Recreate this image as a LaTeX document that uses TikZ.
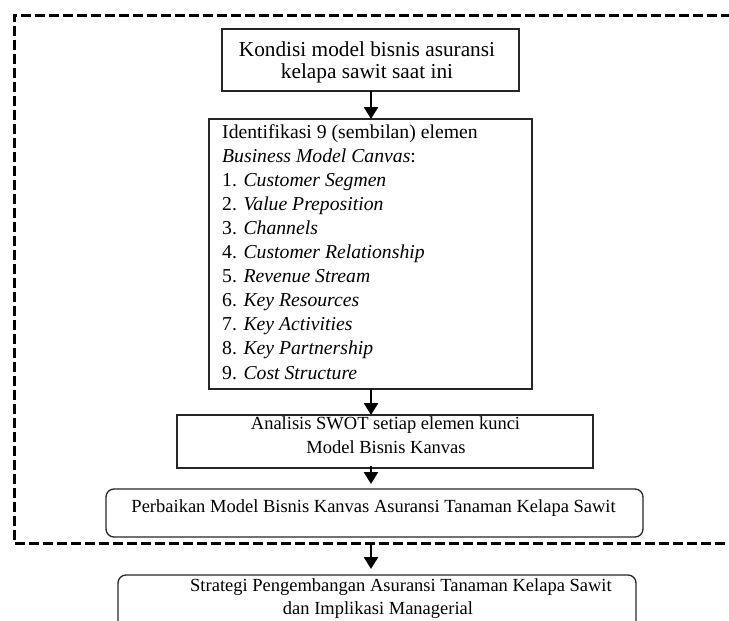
\documentclass[tikz,border=0pt]{standalone}
\usepackage{fontspec}
\setmainfont{Liberation Serif}
\usetikzlibrary{arrows.meta}
\begin{document}
\begin{tikzpicture}[x=1pt,y=-1pt,
  box/.style={draw=black!85, line width=1.3pt, inner sep=0pt, outer sep=0pt},
  rbox/.style={box, rounded corners=8pt},
  arr/.style={line width=2.6pt, -{Triangle[width=14pt,length=12pt]}},
  frame/.style={line width=3pt, dash pattern=on 10pt off 4pt},
  txt/.style={inner sep=0pt, anchor=base},
  ltxt/.style={inner sep=0pt, anchor=base west},
  fa/.style={font=\fontsize{21.3}{22}\selectfont},
  fb/.style={font=\fontsize{19.7}{24}\selectfont},
  fc/.style={font=\fontsize{18.5}{23}\selectfont}
]
\useasboundingbox (0,0) rectangle (729,621);
% dashed frame
\draw[frame] (745,15) -- (14,15) -- (14,543) -- (745,543);
% boxes
\node[box, minimum width=297pt, minimum height=62pt] (b1) at (370.5,60) {};
\node[box, minimum width=323pt, minimum height=270pt] (b2) at (370.5,254) {};
\node[box, minimum width=416pt, minimum height=53pt] (b3) at (385,441.5) {};
\node[rbox, minimum width=537pt, minimum height=48pt] (b4) at (374.5,513) {};
\node[rbox, minimum width=518pt, minimum height=75pt] (b5) at (377,612.5) {};
% texts
\node[txt, fa] (t1a) at (367,56.4) {Kondisi model bisnis asuransi};
\node[txt, fa] (t1b) at (367,78.4) {kelapa sawit saat ini};
\node[ltxt, fb] (l0) at (222,138) {Identifikasi 9 (sembilan) elemen};
\node[ltxt, fb] (l1) at (222,162.1) {\textit{Business Model Canvas}:};
\node[ltxt, fb] (l2) at (222,186.2) {1. \textit{Customer Segmen}};
\node[ltxt, fb] (l3) at (222,210.3) {2. \textit{Value Preposition}};
\node[ltxt, fb] (l4) at (222,234.4) {3. \textit{Channels}};
\node[ltxt, fb] (l5) at (222,258.5) {4. \textit{Customer Relationship}};
\node[ltxt, fb] (l6) at (222,282.6) {5. \textit{Revenue Stream}};
\node[ltxt, fb] (l7) at (222,306.7) {6. \textit{Key Resources}};
\node[ltxt, fb] (l8) at (222,330.8) {7. \textit{Key Activities}};
\node[ltxt, fb] (l9) at (222,354.9) {8. \textit{Key Partnership}};
\node[ltxt, fb] (l10) at (222,379) {9. \textit{Cost Structure}};
\node[txt, fc] (t3a) at (385.5,429.5) {Analisis SWOT setiap elemen kunci};
\node[txt, fc] (t3b) at (386,453.5) {Model Bisnis Kanvas};
\node[txt, fc] (t4) at (373.6,512.5) {Perbaikan Model Bisnis Kanvas Asuransi Tanaman Kelapa Sawit};
\node[ltxt, fc] (t5a) at (190,591.5) {Strategi Pengembangan Asuransi Tanaman Kelapa Sawit};
\node[txt, fc] (t5b) at (378,614.5) {dan Implikasi Managerial};
% arrows
\coordinate (ax) at (371,0);
\coordinate (a3s) at (371,466);
\coordinate (a3e) at (371,484);
\coordinate (a4s) at (371,545);
\coordinate (a4e) at (371,569);
\draw[arr] (ax |- b1.south) -- (ax |- b2.north);
\draw[arr] (ax |- b2.south) -- (ax |- b3.north);
\draw[arr] (a3s) -- (a3e);
\draw[arr] (a4s) -- (a4e);
\end{tikzpicture}
\end{document}
